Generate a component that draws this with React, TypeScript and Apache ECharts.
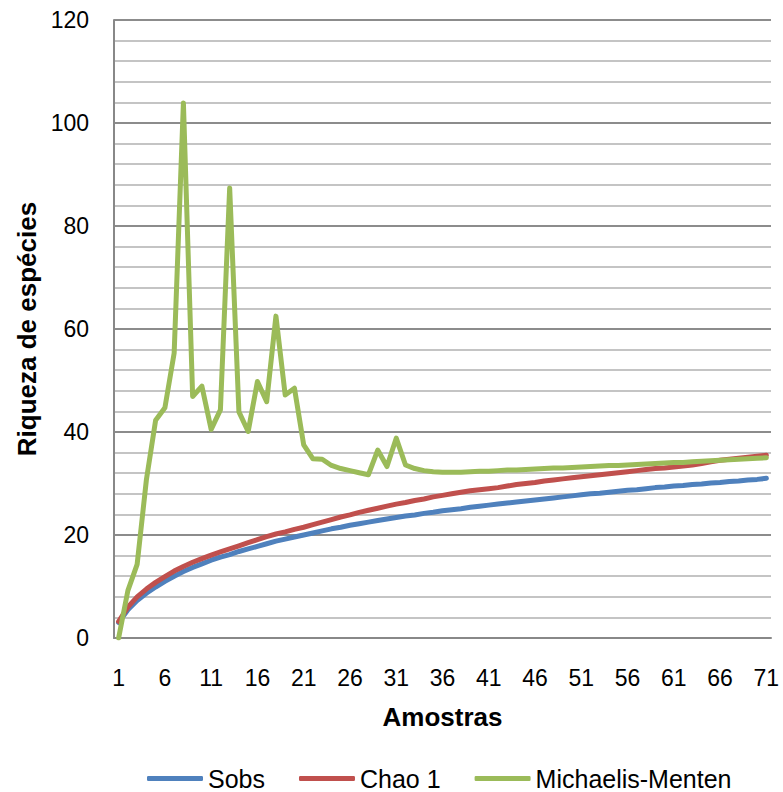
import React, { useEffect, useRef } from "react";
import * as echarts from "echarts";

const categories: string[] = [];
for (let i = 1; i <= 71; i++) categories.push(String(i));

const sobs = [
  3.0, 5.5, 7.3, 8.7, 9.9, 11.0, 12.0, 12.9, 13.7, 14.4,
  15.1, 15.7, 16.2, 16.8, 17.3, 17.8, 18.3, 18.8, 19.2, 19.6,
  20.0, 20.4, 20.8, 21.2, 21.5, 21.9, 22.2, 22.5, 22.8, 23.1,
  23.4, 23.7, 23.9, 24.2, 24.4, 24.7, 24.9, 25.1, 25.4, 25.6,
  25.8, 26.0, 26.2, 26.4, 26.6, 26.8, 27.0, 27.2, 27.4, 27.6,
  27.8, 28.0, 28.1, 28.3, 28.5, 28.7, 28.8, 29.0, 29.2, 29.3,
  29.5, 29.6, 29.8, 29.9, 30.1, 30.2, 30.4, 30.5, 30.7, 30.8,
  31.0,
];

const chao1 = [
  3.2, 6.0, 8.0, 9.5, 10.8, 11.9, 13.0, 13.9, 14.7, 15.4,
  16.1, 16.7, 17.3, 17.9, 18.5, 19.1, 19.7, 20.2, 20.6, 21.1,
  21.5, 22.0, 22.5, 23.0, 23.5, 23.9, 24.4, 24.8, 25.2, 25.6,
  26.0, 26.3, 26.7, 27.0, 27.4, 27.7, 28.0, 28.3, 28.6, 28.8,
  29.0, 29.2, 29.5, 29.8, 30.0, 30.2, 30.5, 30.7, 30.9, 31.1,
  31.3, 31.5, 31.7, 31.9, 32.1, 32.3, 32.5, 32.7, 32.9, 33.0,
  33.2, 33.4, 33.6, 33.9, 34.2, 34.5, 34.7, 34.9, 35.1, 35.3,
  35.5,
];

const michaelisMenten = [
  0, 9.2, 14.3, 30.7, 42.3, 44.7, 55.3, 103.9, 46.9, 48.9,
  40.5, 44.3, 87.4, 43.9, 40.1, 49.8, 45.9, 62.5, 47.2, 48.5,
  37.5, 34.8, 34.7, 33.5, 32.9, 32.5, 32.1, 31.7, 36.5, 33.3,
  38.8, 33.6, 32.9, 32.5, 32.3, 32.2, 32.2, 32.2, 32.3, 32.4,
  32.4, 32.5, 32.6, 32.6, 32.7, 32.8, 32.9, 33.0, 33.0, 33.1,
  33.2, 33.3, 33.4, 33.5, 33.5, 33.6, 33.7, 33.8, 33.9, 34.0,
  34.1, 34.1, 34.2, 34.3, 34.4, 34.5, 34.6, 34.7, 34.8, 34.9,
  35.0,
];

const seriesNames = ["Sobs", "Chao 1", "Michaelis-Menten"];
const seriesColors = ["#4F81BD", "#C0504D", "#9BBB59"];

export default function App() {
  const ref = useRef<HTMLDivElement>(null);

  useEffect(() => {
    document.body.style.margin = "0";
    if (!ref.current) return;
    const chart = echarts.init(ref.current, undefined, { renderer: "svg" });
    const values = [sobs, chao1, michaelisMenten];
    chart.setOption({
      animation: false,
      backgroundColor: "#ffffff",
      textStyle: { fontFamily: "Liberation Sans, Arial, sans-serif" },
      grid: { left: 114, right: 12, top: 20, bottom: 154, containLabel: false },
      legend: {
        left: 147,
        top: 766,
        itemWidth: 56,
        itemHeight: 5,
        itemGap: 34,
        padding: 0,
        icon: "roundRect",
        data: seriesNames,
        textStyle: {
          fontSize: 25,
          lineHeight: 20,
          color: "#000",
          fontFamily: "Liberation Sans, Arial, sans-serif",
        },
      },
      xAxis: {
        type: "category",
        data: categories,
        boundaryGap: true,
        name: "Amostras",
        nameLocation: "middle",
        nameGap: 66,
        nameTextStyle: { fontSize: 26, fontWeight: "bold", color: "#000" },
        axisLine: { show: true, lineStyle: { color: "#888888", width: 2 } },
        axisTick: { show: false },
        axisLabel: { interval: 4, margin: 28, fontSize: 23, color: "#000" },
        splitLine: { show: false },
      },
      yAxis: {
        type: "value",
        min: 0,
        max: 120,
        interval: 20,
        name: "Riqueza de espécies",
        nameLocation: "middle",
        nameGap: 71,
        nameTextStyle: { fontSize: 26, fontWeight: "bold", color: "#000" },
        axisLine: { show: true, lineStyle: { color: "#888888", width: 2 } },
        axisTick: { show: false },
        axisLabel: { margin: 25, fontSize: 23, color: "#000" },
        splitLine: { show: true, lineStyle: { color: "#8c8c8c", width: 2 } },
        minorTick: { show: false, splitNumber: 5 },
        minorSplitLine: { show: true, lineStyle: { color: "#c4c4c4", width: 2 } },
      },
      series: values.map((v, i) => ({
        name: seriesNames[i],
        type: "line",
        data: v,
        symbol: "none",
        showSymbol: false,
        lineStyle: { color: seriesColors[i], width: 5, cap: "round", join: "round" },
        itemStyle: { color: seriesColors[i] },
        z: 2 + i,
      })),
    });
    return () => chart.dispose();
  }, []);

  return <div ref={ref} style={{ width: 783, height: 792 }} />;
}
